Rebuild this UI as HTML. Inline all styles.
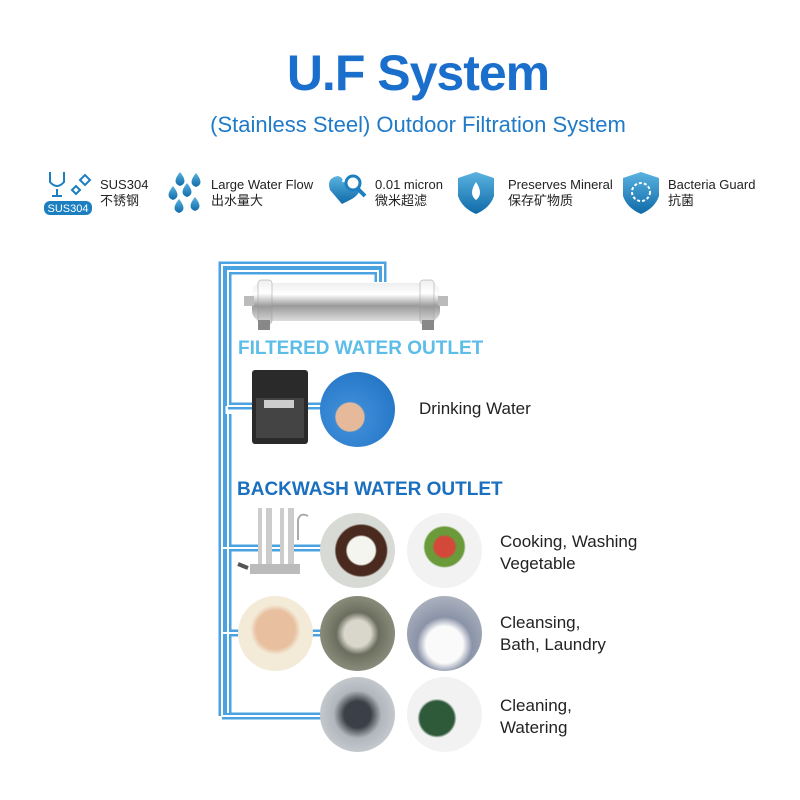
<!DOCTYPE html>
<html><head><meta charset="utf-8"><style>
body{margin:0;width:800px;height:800px;background:#fff;position:relative;overflow:hidden;font-family:"Liberation Sans","Noto Sans CJK SC",sans-serif}
.a{position:absolute}
.t{font-size:13px;color:#222;line-height:16px}
.c{position:absolute;border-radius:50%}
</style></head><body>
<div class="a" style="left:0;width:836px;top:44px;text-align:center;font-size:50px;font-weight:bold;color:#1a6fcc;letter-spacing:-1px">U.F System</div>
<div class="a" style="left:0;width:836px;top:112px;text-align:center;font-size:22px;color:#1f7ac8">(Stainless Steel) Outdoor Filtration System</div>

<svg class="a" style="left:0;top:0" width="800" height="800">
<defs>
<linearGradient id="st" x1="0" y1="0" x2="0" y2="1"><stop offset="0" stop-color="#eee"/><stop offset=".3" stop-color="#fff"/><stop offset=".6" stop-color="#9a9a9a"/><stop offset="1" stop-color="#ddd"/></linearGradient>
<linearGradient id="ic" x1="0" y1="0" x2="0" y2="1"><stop offset="0" stop-color="#5ab3e0"/><stop offset="1" stop-color="#0f6aa8"/></linearGradient>
</defs>
<rect x="44" y="201" width="48" height="14" rx="6" fill="#1b7fc0"/>
<text x="68" y="212" font-size="11" fill="#fff" text-anchor="middle" font-family="Liberation Sans">SUS304</text>
<path d="M50 172 L50 182 Q57 190 64 182 L64 172 M57 189 L57 196 M52 196 L62 196" stroke="#1b7fc0" stroke-width="2" fill="none"/>
<path d="M72 190 l4 -4 4 4 -4 4z M80 180 l5 -5 5 5 -5 5z" stroke="#1b7fc0" stroke-width="2" fill="none"/>
<g fill="url(#ic)"><path d="M180 172 q-9 11 0 14 q9 -3 0 -14z"/><path d="M173 186 q-9 11 0 14 q9 -3 0 -14z"/><path d="M187 183 q-9 11 0 14 q9 -3 0 -14z"/><path d="M196 173 q-9 11 0 14 q9 -3 0 -14z"/><path d="M179 199 q-9 11 0 14 q9 -3 0 -14z"/><path d="M195 197 q-9 11 0 14 q9 -3 0 -14z"/></g>
<path d="M342 204 L330 190 Q326 178 338 176 Q344 178 342 182 L360 184 Q362 194 350 200z" fill="url(#ic)"/>
<circle cx="353" cy="183" r="7" fill="#fff" stroke="#1b7fc0" stroke-width="3"/><path d="M358 189 l7 7" stroke="#1b7fc0" stroke-width="4"/>
<path d="M476 172 L494 178 L494 196 Q490 208 476 214 Q462 208 458 196 L458 178z" fill="url(#ic)"/>
<path d="M476 182 q-8 12 0 18 q8 -6 0 -18z" fill="#fff"/>
<path d="M641 172 L659 178 L659 196 Q655 208 641 214 Q627 208 623 196 L623 178z" fill="url(#ic)"/>
<circle cx="641" cy="192" r="9" fill="none" stroke="#fff" stroke-width="2" stroke-dasharray="3 2"/>
<g fill="none" stroke="#4aa3e0" stroke-width="7">
<path d="M222 716 L222 265 L383 265 L383 282"/>
<path d="M228 406 L228 271 L378 271 L378 282"/>
<path d="M228 406 L330 406"/><path d="M222 548 L330 548"/><path d="M222 633 L330 633"/><path d="M222 716 L330 716"/>
<path d="M228 713 L228 414"/>
</g>
<g fill="none" stroke="#fff" stroke-width="2">
<path d="M222 716 L222 265 L383 265 L383 282"/>
<path d="M228 406 L228 271 L378 271 L378 282"/>
<path d="M228 406 L330 406"/><path d="M222 548 L330 548"/><path d="M222 633 L330 633"/><path d="M222 716 L330 716"/>
<path d="M228 713 L228 414"/>
</g>
<rect x="252" y="283" width="188" height="38" rx="10" fill="url(#st)"/>
<rect x="244" y="296" width="10" height="10" fill="#bbb"/><rect x="438" y="296" width="10" height="10" fill="#bbb"/>
<rect x="258" y="280" width="14" height="44" rx="3" fill="url(#st)" stroke="#999" stroke-width=".5"/>
<rect x="420" y="280" width="14" height="44" rx="3" fill="url(#st)" stroke="#999" stroke-width=".5"/>
<rect x="258" y="320" width="12" height="10" fill="#888"/><rect x="422" y="320" width="12" height="10" fill="#888"/>
<rect x="252" y="370" width="56" height="74" rx="3" fill="#2a2a2a"/>
<rect x="256" y="398" width="48" height="40" fill="#444"/>
<rect x="264" y="400" width="30" height="8" fill="#ccc"/>
<rect x="258" y="508" width="14" height="58" fill="#ccc"/><rect x="280" y="508" width="14" height="58" fill="#ccc"/>
<rect x="262" y="508" width="4" height="58" fill="#fff"/><rect x="284" y="508" width="4" height="58" fill="#fff"/>
<rect x="250" y="564" width="50" height="10" fill="#bbb"/>
<path d="M298 540 L298 520 Q300 512 308 516" stroke="#aaa" stroke-width="2" fill="none"/>
<path d="M238 564 l10 4" stroke="#555" stroke-width="4"/>
</svg>

<div class="c" style="top:372px;left:320px;width:75px;height:75px;background:radial-gradient(circle at 40% 60%,#e6b99a 0 22%,#3a8ad6 24%,#1c6fc0)"></div>
<div class="c" style="left:320px;top:513px;width:75px;height:75px;background:radial-gradient(circle at 55% 50%,#f5f5f0 0 25%,#4a2a1e 28% 45%,#d8dad5 48%)"></div>
<div class="c" style="left:407px;top:513px;width:75px;height:75px;background:radial-gradient(circle at 50% 45%,#d4483a 0 18%,#6a9a3a 22% 35%,#f2f2f2 38%)"></div>
<div class="c" style="left:238px;top:596px;width:75px;height:75px;background:radial-gradient(circle at 50% 45%,#e8c0a0 0 35%,#f3ead8 45%)"></div>
<div class="c" style="left:320px;top:596px;width:75px;height:75px;background:radial-gradient(circle at 50% 50%,#d9d7cc 0 25%,#6b6e5e 40%,#a8a897)"></div>
<div class="c" style="left:407px;top:596px;width:75px;height:75px;background:radial-gradient(circle at 50% 65%,#fafafa 0 30%,#8a93a8 45%,#c0c4cc)"></div>
<div class="c" style="left:320px;top:677px;width:75px;height:75px;background:radial-gradient(circle at 50% 50%,#3b3f47 0 25%,#b0b6bc 45%,#d8dde0)"></div>
<div class="c" style="left:407px;top:677px;width:75px;height:75px;background:radial-gradient(circle at 40% 55%,#2f5a3a 0 28%,#f2f2f2 32%)"></div>

<div class="a t" style="left:100px;top:177px">SUS304<br>不锈钢</div>
<div class="a t" style="left:211px;top:177px">Large Water Flow<br>出水量大</div>
<div class="a t" style="left:375px;top:177px">0.01 micron<br>微米超滤</div>
<div class="a t" style="left:508px;top:177px">Preserves Mineral<br>保存矿物质</div>
<div class="a t" style="left:668px;top:177px">Bacteria Guard<br>抗菌</div>

<div class="a" style="left:238px;top:338px;font-size:19px;font-weight:bold;color:#5bbde8">FILTERED WATER OUTLET</div>
<div class="a" style="left:237px;top:479px;font-size:19px;font-weight:bold;color:#1a6fbf">BACKWASH WATER OUTLET</div>
<div class="a" style="left:419px;top:399px;font-size:17px;color:#222">Drinking Water</div>
<div class="a" style="left:500px;top:531px;font-size:17px;color:#222;line-height:22px">Cooking, Washing<br>Vegetable</div>
<div class="a" style="left:500px;top:612px;font-size:17px;color:#222;line-height:22px">Cleansing,<br>Bath, Laundry</div>
<div class="a" style="left:500px;top:695px;font-size:17px;color:#222;line-height:22px">Cleaning,<br>Watering</div>
</body></html>
